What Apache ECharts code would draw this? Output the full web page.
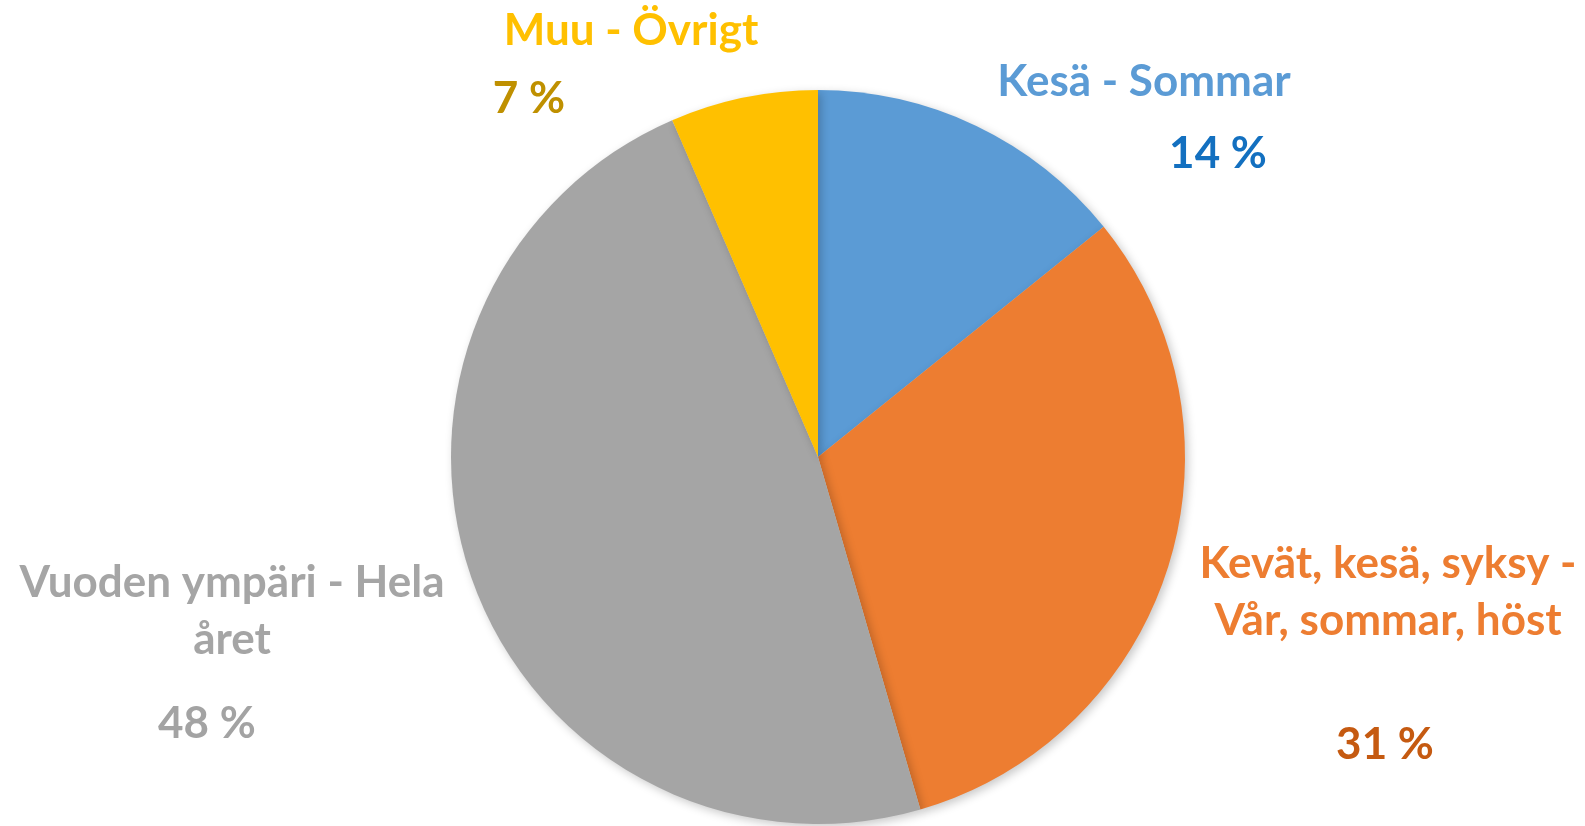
<!DOCTYPE html>
<html>
<head>
<meta charset="utf-8">
<script src="https://cdn.jsdelivr.net/npm/echarts@6/dist/echarts.min.js"></script>
<style>
  html, body { margin: 0; padding: 0; background: #fff; }
  #chartContainer { width: 1585px; height: 826px; }
</style>
</head>
<body>
<div id="chartContainer"></div>
<script>
// data (shares, labels are rounded)
const categories = ['Kesä - Sommar', 'Kevät, kesä, syksy -\nVår, sommar, höst', 'Vuoden ympäri - Hela\nåret', 'Muu - Övrigt'];
const shares = [14.2, 31.3, 48.0, 6.5];
const sliceColors = ['#5B9BD5', '#ED7D31', '#A5A5A5', '#FFC000'];
const valueColors = ['#1370C0', '#C55A11', '#A3A3A3', '#BF9000'];

// label spots (layout only)
const namePos = [[1144, 82], [1388, 592], [232, 611], [631, 31]];
const valuePos = [[1218, 154], [1385, 745], [207, 724], [529, 99]];

const fontFamily = 'Lato, "Open Sans", sans-serif';

function buildData() {
    return categories.map((name, i) => ({
        name: name,
        value: shares[i],
        itemStyle: { color: sliceColors[i] }
    }));
}

function pieBase() {
    return {
        type: 'pie',
        center: [818, 457],
        radius: [0, 367],
        startAngle: 90,
        clockwise: true,
        avoidLabelOverlap: false,
        labelLine: { show: false },
        emphasis: { disabled: true },
        data: buildData()
    };
}

const myChart = echarts.init(document.getElementById('chartContainer'));

const nameSeries = pieBase();
nameSeries.itemStyle = {
    borderWidth: 0,
    shadowBlur: 10,
    shadowColor: 'rgba(0,0,0,0.22)',
    shadowOffsetX: 3,
    shadowOffsetY: 3
};
nameSeries.label = {
    show: true,
    formatter: '{b}',
    fontFamily: fontFamily,
    fontWeight: 'bold',
    fontSize: 44,
    lineHeight: 57,
    align: 'center'
};
nameSeries.data.forEach((d, i) => { d.label = { color: sliceColors[i] }; });
nameSeries.labelLayout = function (params) {
    const p = namePos[params.dataIndex];
    return { x: p[0], y: p[1], align: 'center', verticalAlign: 'middle' };
};

// second, invisible pie only carries the percentage labels
const valueSeries = pieBase();
valueSeries.silent = true;
valueSeries.z = 3;
valueSeries.itemStyle = { color: 'rgba(0,0,0,0)' };
valueSeries.label = {
    show: true,
    formatter: params => Math.round(params.value) + ' %',
    fontFamily: fontFamily,
    fontWeight: 'bold',
    fontSize: 44,
    align: 'center'
};
valueSeries.data.forEach((d, i) => {
    d.itemStyle = { color: 'rgba(0,0,0,0)' };
    d.label = { color: valueColors[i] };
});
valueSeries.labelLayout = function (params) {
    const p = valuePos[params.dataIndex];
    return { x: p[0], y: p[1], align: 'center', verticalAlign: 'middle' };
};

const option = {
    animation: false,
    backgroundColor: '#fff',
    series: [nameSeries, valueSeries]
};

myChart.setOption(option);
</script>
</body>
</html>
